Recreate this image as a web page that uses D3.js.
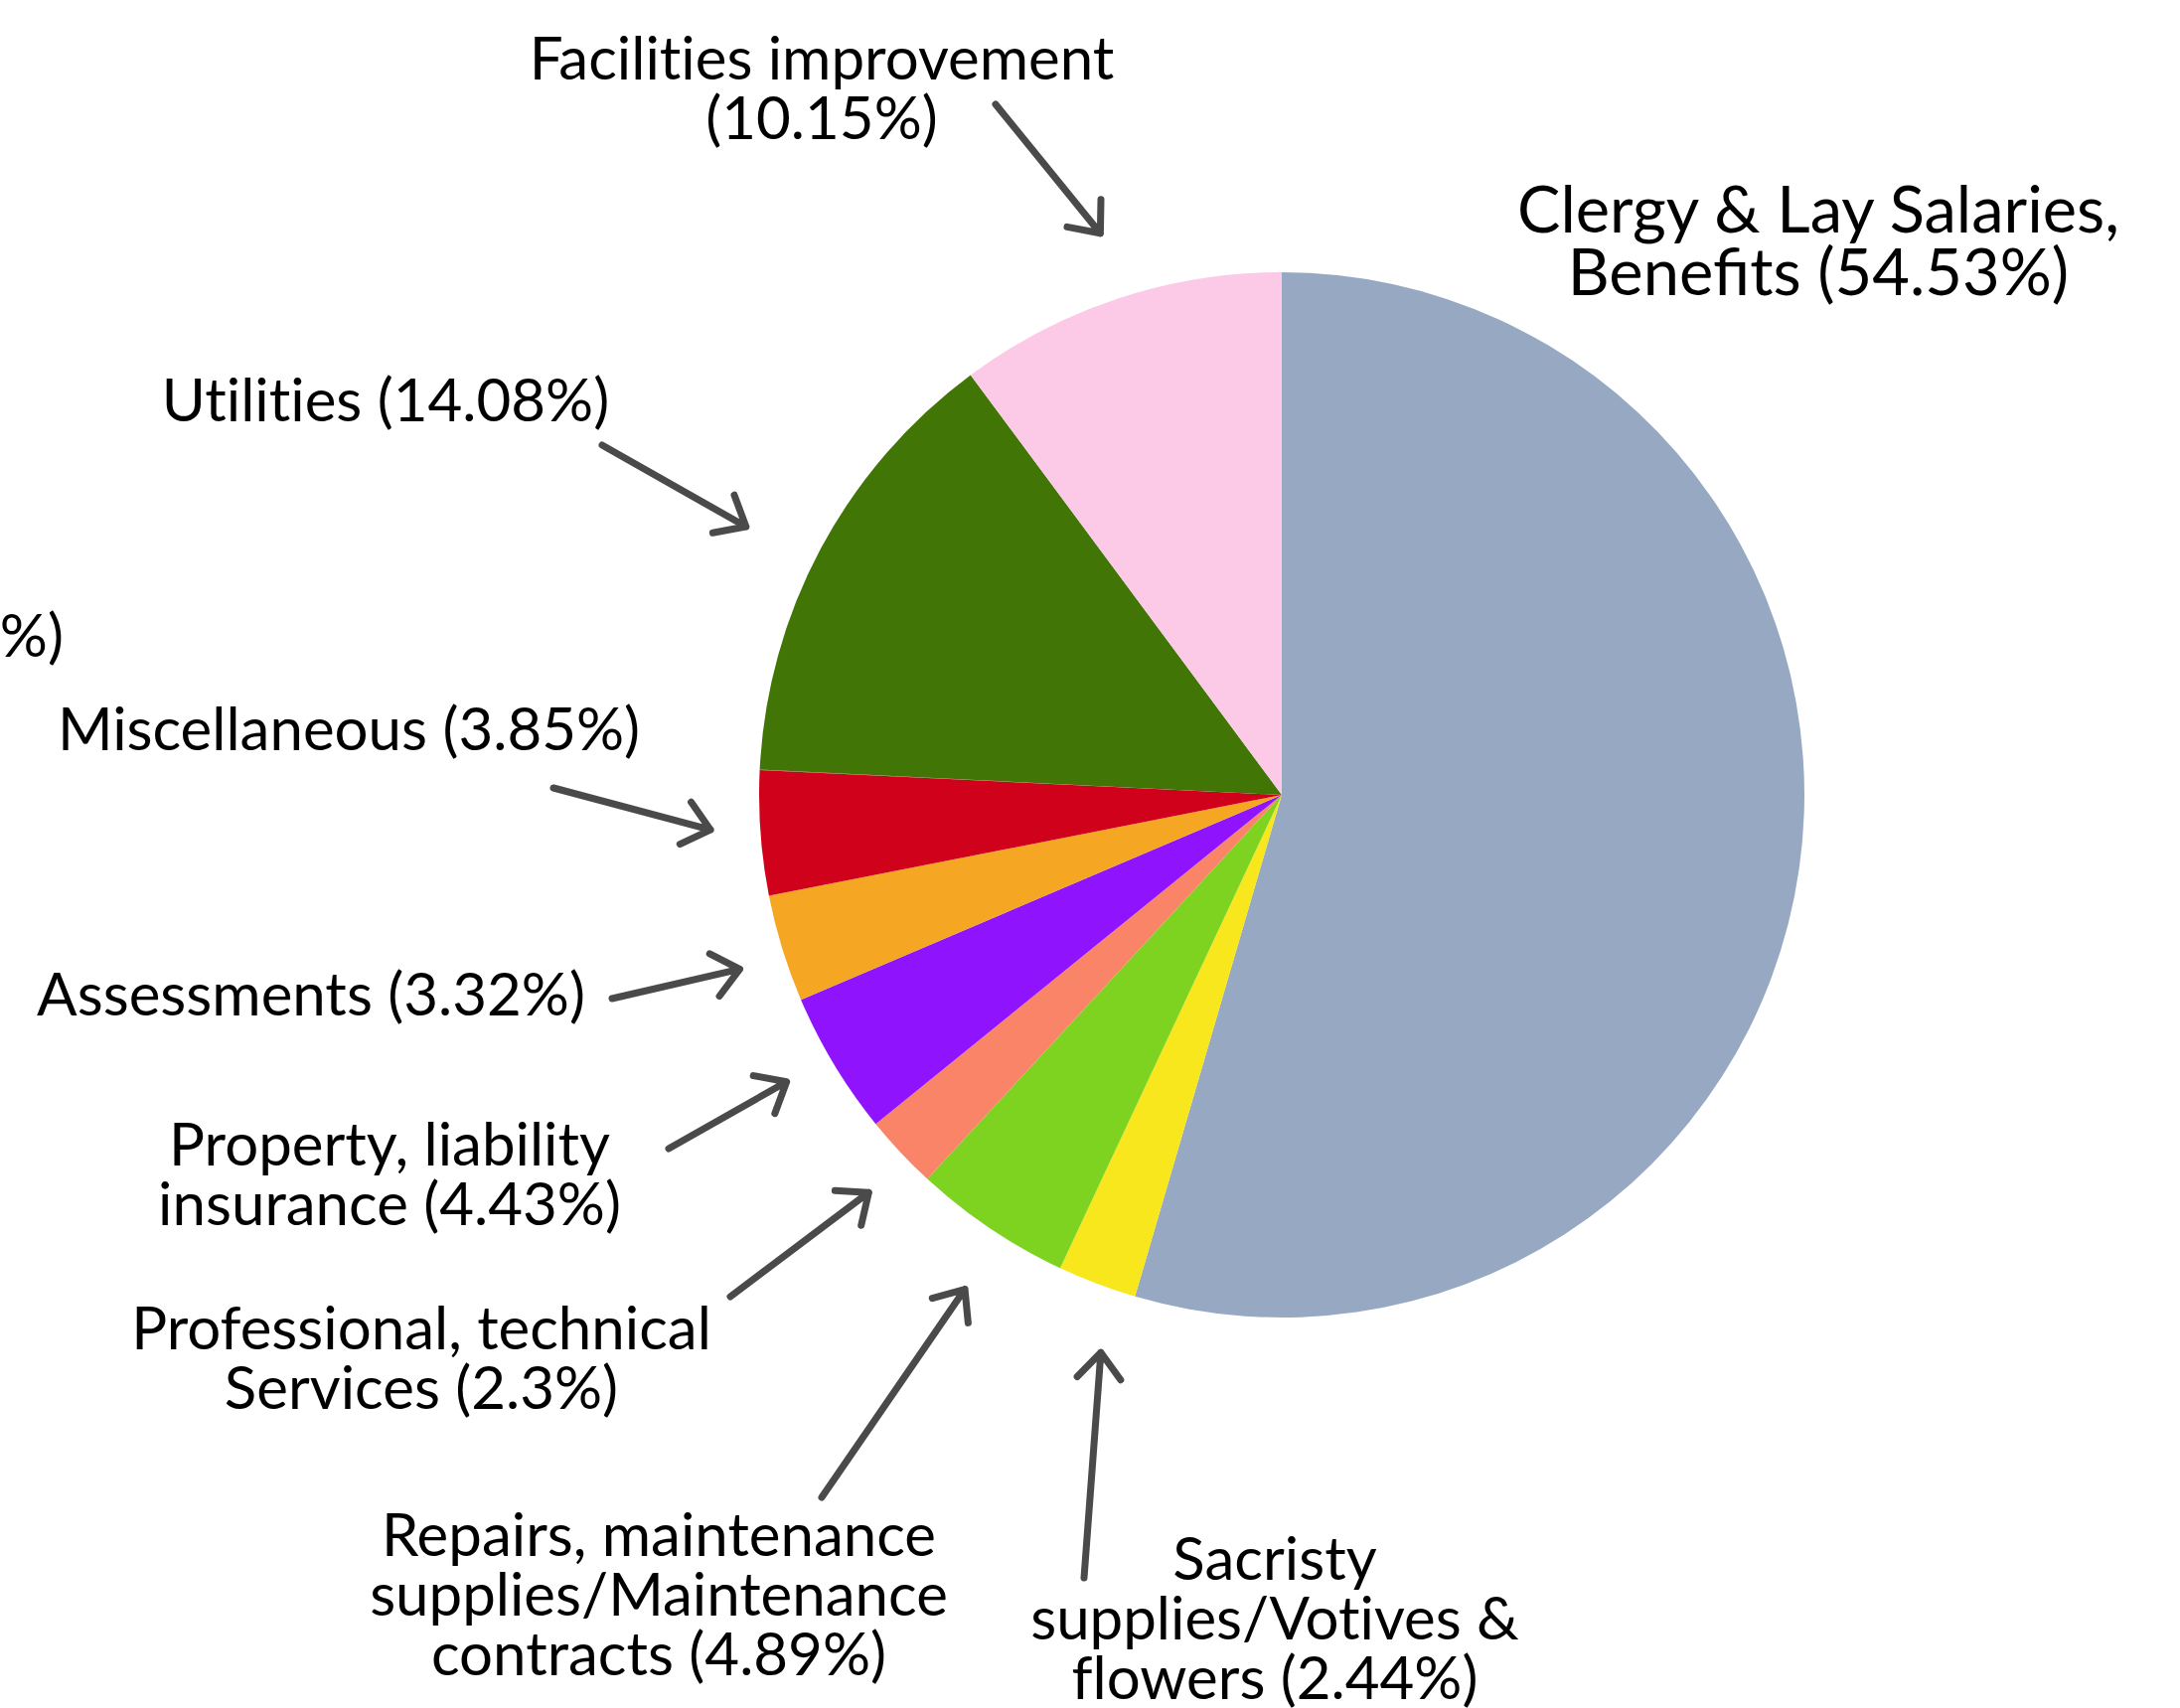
<!DOCTYPE html>
<html>
<head>
<meta charset="utf-8">
<script src="https://cdn.jsdelivr.net/npm/d3@7"></script>
<style>
  html, body { margin: 0; padding: 0; background: #ffffff; }
  svg { display: block; }
  text { font-family: Lato, "Open Sans", sans-serif; fill: #000; }
  text.noliga { font-variant-ligatures: none; font-feature-settings: "liga" 0, "dlig" 0; }
</style>
</head>
<body>
<svg id="chart" width="2194" height="1719"></svg>
<script>
// ---- data ----
const categories = [
  "Clergy & Lay Salaries, Benefits",
  "Sacristy supplies/Votives & flowers",
  "Repairs, maintenance supplies/Maintenance contracts",
  "Professional, technical Services",
  "Property, liability insurance",
  "Assessments",
  "Miscellaneous",
  "Office supplies",
  "Utilities",
  "Facilities improvement"
];
const values = [54.53, 2.44, 4.89, 2.3, 4.43, 3.32, 3.85, 0.01, 14.08, 10.15];
const labelLines = [
  ["Clergy & Lay Salaries,", "Benefits (54.53%)"],
  ["Sacristy", "supplies/Votives &", "flowers (2.44%)"],
  ["Repairs, maintenance", "supplies/Maintenance", "contracts (4.89%)"],
  ["Professional, technical", "Services (2.3%)"],
  ["Property, liability", "insurance (4.43%)"],
  ["Assessments (3.32%)"],
  ["Miscellaneous (3.85%)"],
  ["Office supplies (0.01%)"],
  ["Utilities (14.08%)"],
  ["Facilities improvement", "(10.15%)"]
];
const colors = ["#97a9c2", "#f8e71c", "#7ed321", "#fa8467", "#9013fe",
                "#f5a623", "#d0021b", "#8b572a", "#417505", "#fccae6"];

// ---- layout (annotation positions, px) ----
const cx = 1290, cy = 800, R = 526;
const labelLayout = [
  { x: 1830, y: 234, anchor: "middle", size: 65, lh: 63, tail: null, liga: true },
  { x: 1283, y: 1590, anchor: "middle", size: 60, lh: 60, tail: [1091, 1588] },
  { x: 663, y: 1566, anchor: "middle", size: 60, lh: 60, tail: [827, 1507] },
  { x: 424, y: 1358, anchor: "middle", size: 60, lh: 60, tail: [735, 1305] },
  { x: 392, y: 1173, anchor: "middle", size: 60, lh: 60, tail: [673, 1156] },
  { x: 313, y: 1022, anchor: "middle", size: 60, lh: 60, tail: [616, 1005] },
  { x: 351, y: 755, anchor: "middle", size: 60, lh: 60, tail: [557, 793] },
  { x: 64, y: 661, anchor: "end", size: 60, lh: 60, tail: null },
  { x: 388, y: 424, anchor: "middle", size: 60, lh: 60, tail: [606, 448] },
  { x: 827, y: 80, anchor: "middle", size: 60, lh: 60, tail: [1002, 105] }
];
// arrow tip: fraction across the slice and distance from centre
const tipFrac = [0.5, 0.19, 0.43, 0.41, 0.56, 0.44, 0.55, 0.5, 0.47, 0.51];
const tipRadius = [0, 590, 591, 577, 576, 573, 576, 0, 603, 594];

const svg = d3.select("#chart");
const g = svg.append("g").attr("transform", `translate(${cx},${cy})`);

const pie = d3.pie().sort(null).value(d => d).startAngle(0).endAngle(2 * Math.PI);
const arcs = pie(values);
const arc = d3.arc().innerRadius(0).outerRadius(R);

g.selectAll("path.slice")
  .data(arcs)
  .join("path")
  .attr("class", "slice")
  .attr("d", arc)
  .attr("fill", (d, i) => colors[i]);

// arrows
const arrowG = svg.append("g")
  .attr("stroke", "#4a4a4a")
  .attr("stroke-width", 7)
  .attr("stroke-linecap", "round")
  .attr("stroke-linejoin", "round")
  .attr("fill", "none");

arcs.forEach((a, i) => {
  const lay = labelLayout[i];
  if (!lay.tail) return;
  const ang0 = a.startAngle + tipFrac[i] * (a.endAngle - a.startAngle);
  const tx = cx + tipRadius[i] * Math.sin(ang0);
  const ty = cy - tipRadius[i] * Math.cos(ang0);
  const [sx, sy] = lay.tail;
  const ang = Math.atan2(ty - sy, tx - sx);
  const L = 34, h = 0.7;
  const p1 = [tx - L * Math.cos(ang - h), ty - L * Math.sin(ang - h)];
  const p2 = [tx - L * Math.cos(ang + h), ty - L * Math.sin(ang + h)];
  const path = d3.path();
  path.moveTo(sx, sy); path.lineTo(tx, ty);
  path.moveTo(p1[0], p1[1]); path.lineTo(tx, ty); path.lineTo(p2[0], p2[1]);
  arrowG.append("path").attr("d", path.toString());
});

// labels
labelLines.forEach((lines, i) => {
  const lay = labelLayout[i];
  const t = svg.append("text")
    .attr("class", lay.liga ? null : "noliga")
    .attr("x", lay.x)
    .attr("y", lay.y)
    .attr("text-anchor", lay.anchor)
    .attr("font-size", lay.size);
  lines.forEach((ln, k) => {
    t.append("tspan").attr("x", lay.x).attr("dy", k === 0 ? 0 : lay.lh).text(ln);
  });
});
</script>
</body>
</html>
